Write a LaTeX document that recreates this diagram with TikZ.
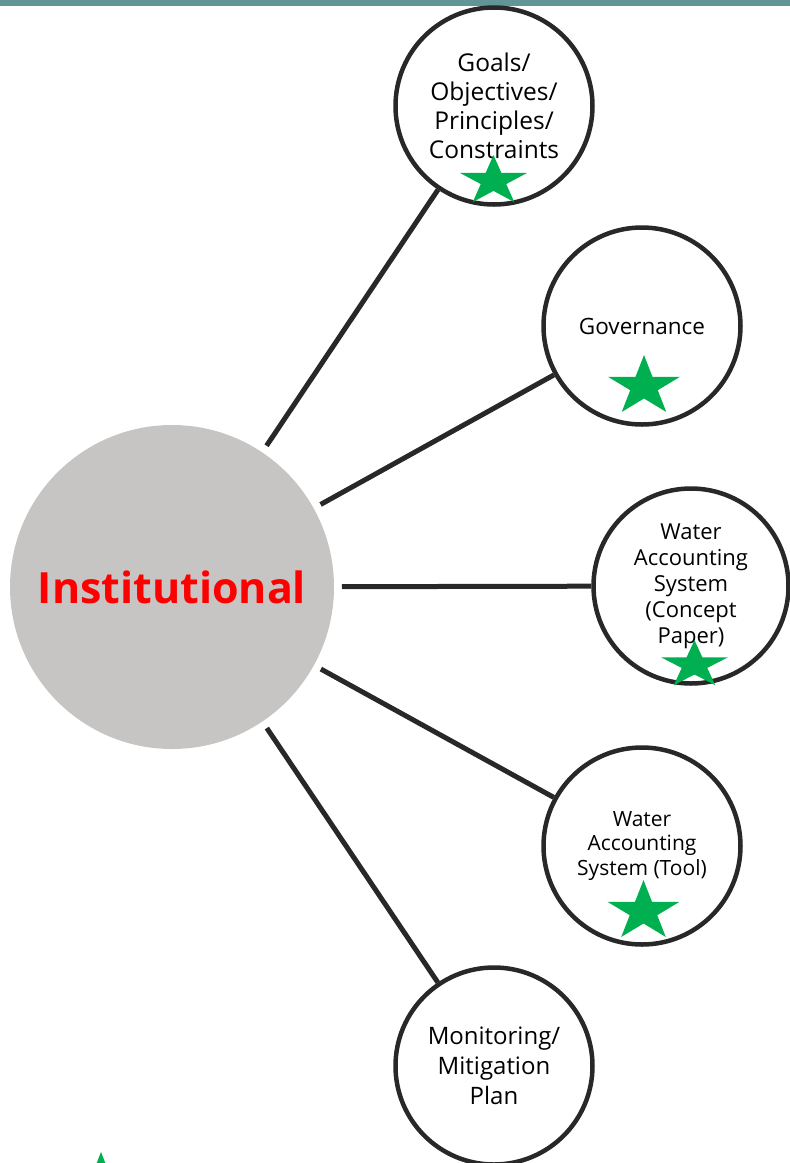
\documentclass[tikz,border=0pt]{standalone}
\usepackage{fontspec}
\setmainfont{Open Sans}
\usetikzlibrary{calc}
\definecolor{barcol}{RGB}{98,150,150}
\definecolor{instgray}{RGB}{199,197,195}
\definecolor{darkline}{RGB}{40,40,40}
\definecolor{stargreen}{RGB}{0,176,80}
\newcommand\gstar[4]{%
  \begin{scope}[shift={(#1,#2)},xscale=#3,yscale=#3*#4]
    \fill[stargreen] (0,-1) -- (0.2245,-0.309) -- (0.951,-0.309) -- (0.363,0.118)
      -- (0.588,0.809) -- (0,0.382) -- (-0.588,0.809) -- (-0.363,0.118)
      -- (-0.951,-0.309) -- (-0.2245,-0.309) -- cycle;
  \end{scope}}
\tikzset{
  topic/.style={circle, draw=darkline, line width=4.5pt, fill=white, minimum size=197pt, inner sep=0pt, align=center, text=black},
  conn/.style={draw=darkline, line width=5pt},
}
\begin{document}
\begin{tikzpicture}[x=1pt,y=-1pt]
\useasboundingbox (0,0) rectangle (790,1163);
\clip (0,0) rectangle (790,1163);
\fill[barcol] (0,0) rectangle (790,6);

\node[circle, fill=instgray, minimum size=324pt, inner sep=0pt,
      font=\fontsize{43}{50}\selectfont\bfseries, text=red] (inst) at (172,587) {Institutional};

\node[topic, font=\fontsize{24.5}{29}\selectfont] (goals) at (494,106) {Goals/\\Objectives/\\Principles/\\Constraints};
\node[topic, font=\fontsize{22.5}{26}\selectfont] (gov) at (642,326) {Governance};
\node[topic, minimum size=195pt, font=\fontsize{22}{26}\selectfont] (wasc) at (691,586) {Water\\Accounting\\System\\(Concept\\Paper)};
\node[topic, font=\fontsize{21}{24.5}\selectfont] (wast) at (642,846) {Water\\Accounting\\System (Tool)};
\node[topic, font=\fontsize{24}{30}\selectfont] (mon) at (494,1066) {Monitoring/\\Mitigation\\Plan};

\draw[conn] ($(inst)!170pt!(goals)$) -- (goals);
\draw[conn] ($(inst)!170pt!(gov)$) -- (gov);
\draw[conn] ($(inst)!170pt!(wasc)$) -- (wasc);
\draw[conn] ($(inst)!170pt!(wast)$) -- (wast);
\draw[conn] ($(inst)!170pt!(mon)$) -- (mon);

\gstar{493.5}{181}{35.2}{0.738}
\gstar{644}{386.5}{37.9}{0.83}
\gstar{694.5}{665}{35.2}{0.707}
\gstar{643.5}{911.5}{37.9}{0.83}
\gstar{101}{1183.5}{38}{0.83}
\end{tikzpicture}
\end{document}
